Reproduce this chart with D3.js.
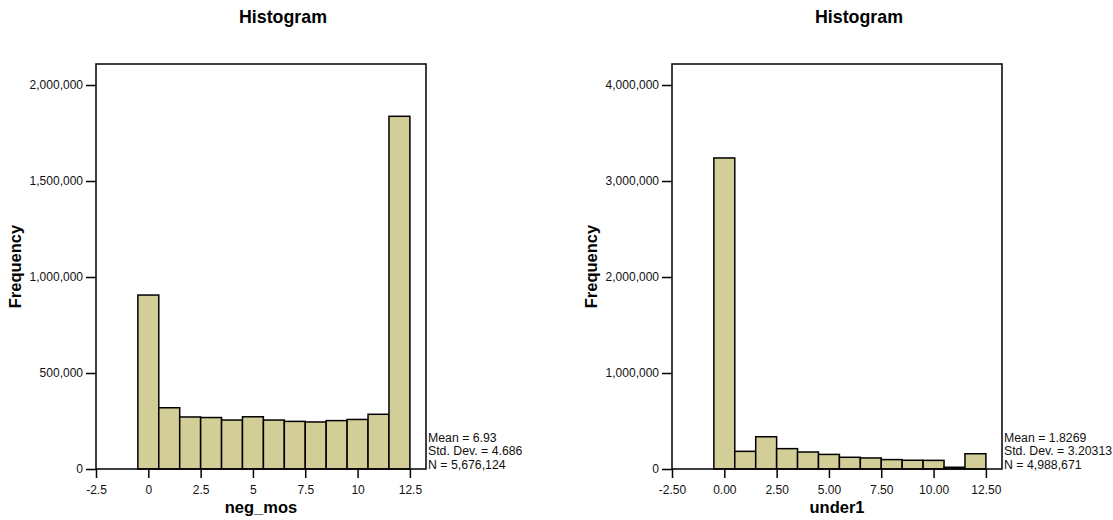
<!DOCTYPE html>
<html>
<head>
<meta charset="utf-8">
<script src="https://cdn.jsdelivr.net/npm/d3@7"></script>
<style>
  html, body { margin: 0; padding: 0; background: #fff; }
  svg { display: block; font-family: "Liberation Sans", Arial, sans-serif; }
</style>
</head>
<body>
<svg id="chart" width="1113" height="520"></svg>
<script>
// ---- Data ----
const binStarts = [-0.5, 0.5, 1.5, 2.5, 3.5, 4.5, 5.5, 6.5, 7.5, 8.5, 9.5, 10.5, 11.5];
const binWidth = 1;

const negMosCounts = [906000, 319000, 271000, 268000, 255000, 272000, 255000, 248000, 245000, 252000, 258000, 285000, 1837000];
const under1Counts = [3240000, 184000, 336000, 212000, 177000, 152000, 122000, 115000, 98000, 91000, 90000, 18000, 159000];

const negMosXTicks = [-2.5, 0, 2.5, 5, 7.5, 10, 12.5];
const negMosXLabels = ["-2.5", "0", "2.5", "5", "7.5", "10", "12.5"];
const under1XTicks = [-2.5, 0, 2.5, 5, 7.5, 10, 12.5];
const under1XLabels = ["-2.50", "0.00", "2.50", "5.00", "7.50", "10.00", "12.50"];

const negMosYTicks = [0, 500000, 1000000, 1500000, 2000000];
const under1YTicks = [0, 1000000, 2000000, 3000000, 4000000];

const negMosStats = ["Mean = 6.93", "Std. Dev. = 4.686", "N = 5,676,124"];
const under1Stats = ["Mean = 1.8269", "Std. Dev. = 3.20313", "N = 4,988,671"];

const panels = [
  { title: "Histogram", xTitle: "neg_mos", counts: negMosCounts, xTicks: negMosXTicks, xLabels: negMosXLabels,
    yTicks: negMosYTicks, stats: negMosStats, offset: 0, yMax: 2109375 },
  { title: "Histogram", xTitle: "under1", counts: under1Counts, xTicks: under1XTicks, xLabels: under1XLabels,
    yTicks: under1YTicks, stats: under1Stats, offset: 576, yMax: 4218750 }
];

const plotTop = 64, plotBottom = 469;
const plotLeft = 96, plotRight = 426;
const xDomain = [-2.5, 13.27];
const svg = d3.select("#chart");
const fmt = d3.format(",");

panels.forEach(p => {
  const left = plotLeft + p.offset, right = plotRight + p.offset;
  const g = svg.append("g");
  const x = d3.scaleLinear().domain(xDomain).range([left, right]);
  const y = d3.scaleLinear().domain([0, p.yMax]).range([plotBottom, plotTop]);

  // Title
  g.append("text")
    .attr("x", 283 + p.offset).attr("y", 22.5)
    .attr("text-anchor", "middle")
    .attr("font-size", 17.8).attr("font-weight", "bold")
    .text(p.title);

  // Bars
  g.selectAll("rect.bar")
    .data(p.counts.map((c, i) => ({ x0: binStarts[i], x1: binStarts[i] + binWidth, c })))
    .join("rect")
    .attr("class", "bar")
    .attr("x", d => x(d.x0))
    .attr("y", d => y(d.c))
    .attr("width", d => x(d.x1) - x(d.x0))
    .attr("height", d => y(0) - y(d.c))
    .attr("fill", "#d3ce98")
    .attr("stroke", "#000")
    .attr("stroke-width", 1.5);

  // Frame
  g.append("rect")
    .attr("x", left).attr("y", plotTop)
    .attr("width", right - left).attr("height", plotBottom - plotTop)
    .attr("fill", "none").attr("stroke", "#000").attr("stroke-width", 1.5);

  // Y axis
  const yAxis = g.append("g")
    .attr("transform", `translate(${left},0)`)
    .call(d3.axisLeft(y).tickValues(p.yTicks).tickFormat(fmt).tickSize(10).tickPadding(3));
  yAxis.select(".domain").remove();
  yAxis.selectAll("line").attr("stroke", "#000").attr("stroke-width", 1.5);
  yAxis.selectAll("text").attr("font-size", 12).attr("font-family", "Liberation Sans, Arial, sans-serif").attr("fill", "#111");

  // X axis
  const xAxis = g.append("g")
    .attr("transform", `translate(0,${plotBottom})`)
    .call(d3.axisBottom(x).tickValues(p.xTicks).tickFormat((d, i) => p.xLabels[i]).tickSize(9).tickPadding(7));
  xAxis.select(".domain").remove();
  xAxis.selectAll("line").attr("stroke", "#000").attr("stroke-width", 1.5);
  xAxis.selectAll("text").attr("font-size", 12).attr("font-family", "Liberation Sans, Arial, sans-serif").attr("fill", "#111");

  // Axis titles
  g.append("text")
    .attr("x", (left + right) / 2).attr("y", 512.5)
    .attr("text-anchor", "middle")
    .attr("font-size", 16.5).attr("font-weight", "bold")
    .text(p.xTitle);

  g.append("text")
    .attr("transform", `translate(${21 + p.offset},${(plotTop + plotBottom) / 2}) rotate(-90)`)
    .attr("text-anchor", "middle")
    .attr("font-size", 16.5).attr("font-weight", "bold")
    .text("Frequency");

  // Stats
  g.selectAll("text.stat")
    .data(p.stats)
    .join("text")
    .attr("class", "stat")
    .attr("x", right + 2)
    .attr("y", (d, i) => 441.5 + i * 13.6)
    .attr("font-size", 12.3)
    .attr("fill", "#111")
    .text(d => d);
});
</script>
</body>
</html>
